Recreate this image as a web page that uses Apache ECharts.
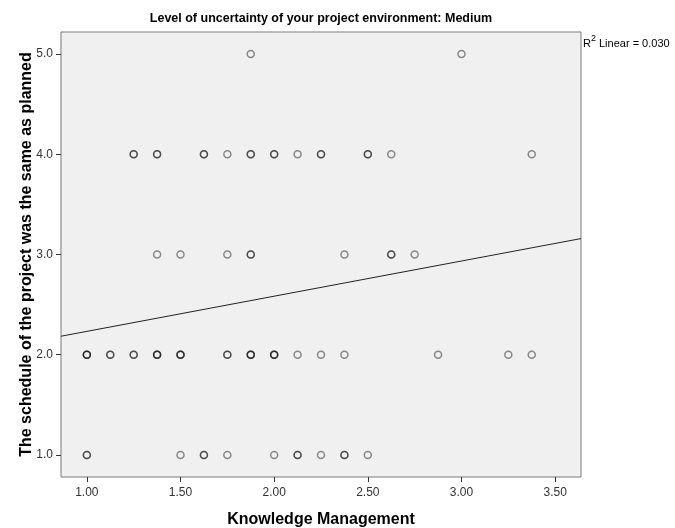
<!DOCTYPE html>
<html><head><meta charset="utf-8">
<script src="https://cdn.jsdelivr.net/npm/echarts@6/dist/echarts.min.js"></script>
<style>html,body{margin:0;padding:0;background:#fff}#c{width:675px;height:528px}</style>
</head><body><div id="c"></div>
<script>
// Knowledge Management scores of cases, grouped by their schedule score
// (repeated values = overlapping cases, which draw darker)
var scheduleLevels = [5, 4, 3, 2, 1];
var kmAtSchedule5 = [1.875, 3.0];
var kmAtSchedule4 = [1.25, 1.25, 1.375, 1.375, 1.625, 1.625, 1.75, 1.875, 1.875, 2.0, 2.0, 2.125, 2.25, 2.25, 2.5, 2.5, 2.625, 3.375];
var kmAtSchedule3 = [1.375, 1.5, 1.75, 1.875, 1.875, 2.375, 2.625, 2.625, 2.75];
var kmAtSchedule2 = [1.0, 1.0, 1.0, 1.125, 1.125, 1.25, 1.25, 1.375, 1.375, 1.375, 1.5, 1.5, 1.5, 1.75, 1.75, 1.875, 1.875, 1.875, 2.0, 2.0, 2.0, 2.125, 2.25, 2.375, 2.875, 3.25, 3.375];
var kmAtSchedule1 = [1.0, 1.0, 1.5, 1.625, 1.625, 1.75, 2.0, 2.125, 2.125, 2.25, 2.375, 2.375, 2.5];
var xTicks = [1.0, 1.5, 2.0, 2.5, 3.0, 3.5];
var yTicks = [1.0, 2.0, 3.0, 4.0, 5.0];
var fitIntercept = 1.882;
var fitSlope = 0.351;
var rSquared = '0.030';
var titleText = 'Level of uncertainty of your project environment: Medium';
var xName = 'Knowledge Management';
var yName = 'The schedule of the project was the same as planned';

var xMin = 0.862, xMax = 3.638, yMin = 0.78, yMax = 5.22;

var groups = [kmAtSchedule5, kmAtSchedule4, kmAtSchedule3, kmAtSchedule2, kmAtSchedule1];
var points = [];
groups.forEach(function (g, i) { g.forEach(function (k) { points.push([k, scheduleLevels[i]]); }); });
var fitLine = [[xMin, fitIntercept + fitSlope * xMin], [xMax, fitIntercept + fitSlope * xMax]];

var chart = echarts.init(document.getElementById('c'));
var font = 'Liberation Sans, Arial, sans-serif';
chart.setOption({
  animation: false,
  textStyle: { fontFamily: font },
  grid: { left: 61, right: 94, top: 32, bottom: 51, outerBoundsMode: 'none', containLabel: false,
          show: true, backgroundColor: '#f0f0f0', borderColor: '#7a7a7a', borderWidth: 1 },
  xAxis: {
    type: 'value', min: xMin, max: xMax,
    name: xName, nameLocation: 'middle', nameGap: 35, nameMoveOverlap: false,
    nameTextStyle: { fontSize: 16, fontWeight: 'bold', color: '#000', fontFamily: font },
    axisLine: { show: false },
    splitLine: { show: false },
    axisTick: { show: true, length: 5, lineStyle: { color: '#333' }, customValues: xTicks },
    axisLabel: { customValues: xTicks, fontSize: 12, color: '#333', margin: 10, formatter: function (v) { return v.toFixed(2); } }
  },
  yAxis: {
    type: 'value', min: yMin, max: yMax,
    name: yName, nameLocation: 'middle', nameGap: 26, nameMoveOverlap: false,
    nameTextStyle: { fontSize: 16, fontWeight: 'bold', color: '#000', fontFamily: font },
    axisLine: { show: false },
    splitLine: { show: false },
    axisTick: { show: true, length: 5, lineStyle: { color: '#333' }, customValues: yTicks },
    axisLabel: { customValues: yTicks, fontSize: 12, color: '#333', margin: 8, formatter: function (v) { return v.toFixed(1); } }
  },
  graphic: [
    { type: 'text', x: 321, y: 12, style: { text: titleText, font: 'bold 12.5px ' + font, fill: '#000', textAlign: 'center' } },
    { type: 'text', x: 583, y: 34, style: {
        text: '{s|R}{u|2}{s| Linear = ' + rSquared + '}',
        rich: { s: { fontSize: 11, fontFamily: font, fill: '#000', verticalAlign: 'bottom', lineHeight: 15 },
                u: { fontSize: 9, fontFamily: font, fill: '#000', verticalAlign: 'top', lineHeight: 15 } } } }
  ],
  series: [
    { type: 'scatter', data: points, symbol: 'circle', symbolSize: 7,
      itemStyle: { color: 'rgba(0,0,0,0)', borderColor: 'rgba(0,0,0,0.55)', borderWidth: 1.5 } },
    { type: 'line', data: fitLine, showSymbol: false, symbol: 'none',
      lineStyle: { color: '#222', width: 1 } }
  ]
});
</script></body></html>
